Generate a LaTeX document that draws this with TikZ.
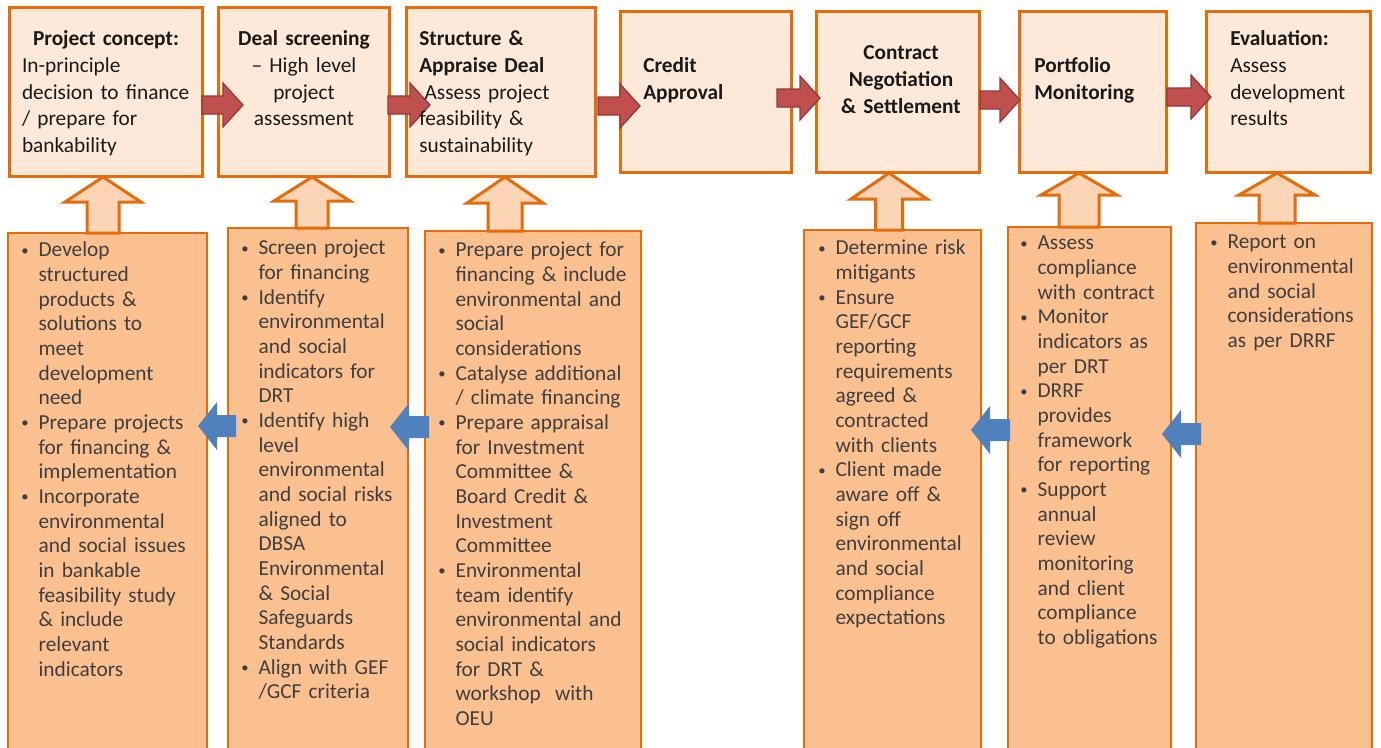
\documentclass[tikz,border=0pt]{standalone}
\usepackage{fontspec}
\setmainfont{Carlito}
\usetikzlibrary{positioning,fit}
\setlength{\parindent}{0pt}

\definecolor{boxorange}{HTML}{E46C0A}
\definecolor{stagefill}{HTML}{FDE9D9}
\definecolor{taskfill}{HTML}{FAC090}
\definecolor{feedfill}{HTML}{FBD5B5}
\definecolor{flowred}{HTML}{C0504D}
\definecolor{flowredline}{HTML}{943634}
\definecolor{backblue}{HTML}{4F81BD}
\definecolor{inktop}{HTML}{1A1A1A}
\definecolor{inkbot}{HTML}{3F3F3F}

% bullet item with hanging indent (lines split with \\ stay in one paragraph)
\newcommand{\bul}{\par\let\\\newline\hangindent=13pt\hangafter=1\noindent
  \makebox[13pt][l]{\raisebox{1.3pt}{\fontsize{11}{11}\selectfont\textbullet}}\strut}

% block arrows: red one to the right, pale one upwards, blue one to the left
\newcommand{\flowarr}[3]{% tail x, tip x, mid y
  \filldraw[flowarrow] (#1,#3-9) -- (#2-20,#3-9) -- (#2-20,#3-22) -- (#2,#3)
    -- (#2-20,#3+22) -- (#2-20,#3+9) -- (#1,#3+9) -- cycle;}
\newcommand{\feedarr}[5]{% mid x, tip y, head base y, foot y, half shaft
  \filldraw[feedarrow] (#1-#5,#4) -- (#1-#5,#3) -- (#1-38,#3) -- (#1,#2)
    -- (#1+38,#3) -- (#1+#5,#3) -- (#1+#5,#4) -- cycle;}
\newcommand{\backarr}[3]{% tip x, tail x, mid y
  \fill[backarrow] (#1,#3) -- (#1+19,#3-24) -- (#1+19,#3-11) -- (#2,#3-11)
    -- (#2,#3+11) -- (#1+19,#3+11) -- (#1+19,#3+24) -- cycle;}

\begin{document}
\begin{tikzpicture}[x=0.75pt, y=-0.75pt,
  stage/.style={draw=boxorange, line width=2.25pt, fill=stagefill, inner sep=0pt},
  task/.style={draw=boxorange, line width=1.5pt, fill=taskfill, inner sep=0pt},
  stagetext/.style={inner sep=0pt, text=inktop, font=\fontsize{16}{20}\selectfont, execute at begin node=\strut},
  tasktext/.style={anchor=north west, inner sep=0pt, text=inkbot, font=\fontsize{16}{18.5}\selectfont},
  flowarrow/.style={fill=flowred, draw=flowredline, line width=0.9pt},
  feedarrow/.style={fill=feedfill, draw=boxorange, line width=2.25pt},
  backarrow/.style={fill=backblue}]
\useasboundingbox (0,0) rectangle (1381,747);
\clip (0,0) rectangle (1381,747);

% lower boxes (run off the bottom edge)
\node[task, fit={(8,233) (207,760)}] (b1) {};
\node[task, fit={(228,228) (408,760)}] (b2) {};
\node[task, fit={(425,231) (641,760)}] (b3) {};
\node[task, fit={(804,230) (981,760)}] (b4) {};
\node[task, fit={(1008,227) (1171,760)}] (b5) {};
\node[task, fit={(1196,223) (1372,760)}] (b6) {};

% stages
\node[stage, fit={(9,7.5) (202.5,176.5)}] (p1) {};
\node[stage, fit={(218.5,7.5) (389.5,176.5)}] (p2) {};
\node[stage, fit={(406.5,7.5) (595.5,176.5)}] (p3) {};
\node[stage, fit={(620.5,11.5) (791.5,172.5)}] (p4) {};
\node[stage, fit={(816.5,11.5) (979.5,172.5)}] (p5) {};
\node[stage, fit={(1019.5,11.5) (1166.5,172.5)}] (p6) {};
\node[stage, fit={(1206.5,11.5) (1370.5,172.5)}] (p7) {};

% arrows up into the stages
\feedarr{103}{177}{202}{233}{16}
\feedarr{312}{177}{201}{228}{16}
\feedarr{505}{177}{203}{231}{17}
\feedarr{889}{173}{199}{230}{13.5}
\feedarr{1079}{173}{195}{227}{20}
\feedarr{1277}{173}{195}{223}{18}

% flow between stages
\flowarr{202}{243}{105}
\flowarr{388}{430}{105}
\flowarr{598}{640}{106}
\flowarr{777}{820}{98}
\flowarr{980}{1020}{100}
\flowarr{1167}{1211}{97}

% flow back between lower boxes
\backarr{198}{236}{426}
\backarr{390}{429}{427}
\backarr{971}{1010}{430}
\backarr{1162}{1201}{434}

% stage texts
\node[stagetext, anchor=north, text width=126pt] (t1) at (106,27)
  {\centering\bfseries Project concept:\par\raggedright\mdseries In-principle\\decision to finance\\/ prepare for\\bankability};
\node[stagetext, anchor=north, text width=126pt, align=center] (t2) at (304,27)
  {\textbf{Deal screening}\\\textendash{} High level\\project\\assessment};
\node[stagetext, anchor=north west, text width=130pt, align=left] (t3) at (419,27)
  {\textbf{Structure \&}\\\textbf{Appraise Deal}\\\hspace*{4pt}Assess project\\feasibility \&\\sustainability};
\node[stagetext, anchor=north west, text width=120pt, align=left, font=\fontsize{16}{20}\selectfont\bfseries] (t4) at (643,54)
  {Credit\\Approval};
\node[stagetext, anchor=north, text width=120pt, align=center, font=\fontsize{16}{20}\selectfont\bfseries] (t5) at (901,41)
  {Contract\\Negotiation\\\& Settlement};
\node[stagetext, anchor=north west, text width=100pt, align=left, font=\fontsize{16}{20}\selectfont\bfseries] (t6) at (1034,54)
  {Portfolio\\Monitoring};
\node[stagetext, anchor=north west, text width=105pt, align=left] (t7) at (1230,27)
  {\textbf{Evaluation:}\\Assess\\development\\results};

% lower box texts
\node[tasktext, text width=140pt] (l1) at (21,232) {%
  \bul Develop\\structured\\products \&\\solutions to\\meet\\development\\need
  \bul Prepare projects\\for financing \&\\implementation
  \bul Incorporate\\environmental\\and social issues\\in bankable\\feasibility study\\\& include\\relevant\\indicators\par};
\node[tasktext, text width=130pt] (l2) at (241,230) {%
  \bul Screen project\\for financing
  \bul Identify\\environmental\\and social\\indicators for\\DRT
  \bul Identify high\\level\\environmental\\and social risks\\aligned to\\DBSA\\Environmental\\\& Social\\Safeguards\\Standards
  \bul Align with GEF\\/GCF criteria\par};
\node[tasktext, text width=155pt] (l3) at (438,232) {%
  \bul Prepare project for\\financing \& include\\environmental and\\social\\considerations
  \bul Catalyse additional\\/ climate financing
  \bul Prepare appraisal\\for Investment\\Committee \&\\Board Credit \&\\Investment\\Committee
  \bul Environmental\\team identify\\environmental and\\social indicators\\for DRT \&\\workshop\ \ with\\OEU\par};
\node[tasktext, text width=130pt] (l4) at (818,230) {%
  \bul Determine risk\\mitigants
  \bul Ensure\\GEF/GCF\\reporting\\requirements\\agreed \&\\contracted\\with clients
  \bul Client made\\aware off \&\\sign off\\environmental\\and social\\compliance\\expectations\par};
\node[tasktext, text width=120pt] (l5) at (1020,225) {%
  \bul Assess\\compliance\\with contract
  \bul Monitor\\indicators as\\per DRT
  \bul DRRF\\provides\\framework\\for reporting
  \bul Support\\annual\\review\\monitoring\\and client\\compliance\\to obligations\par};
\node[tasktext, text width=125pt] (l6) at (1210,224) {%
  \bul Report on\\environmental\\and social\\considerations\\as per DRRF\par};
\end{tikzpicture}
\end{document}
